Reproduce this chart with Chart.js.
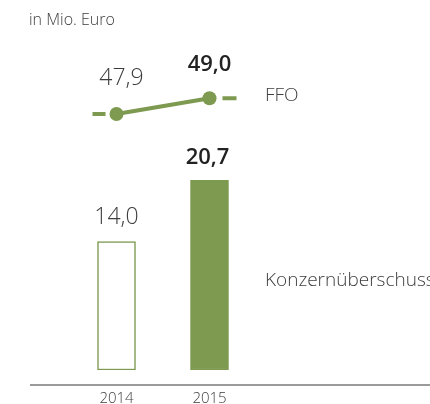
<!DOCTYPE html>
<html lang="de">
    <head>
        <meta charset="UTF-8">
        <title>FFO und Konzernüberschuss</title>
        <script src="https://cdn.jsdelivr.net/npm/chart.js"></script>
        <style>
            body { margin: 0; background: #fff; }
            #kennzahlen { display: block; }
        </style>
    </head>
    <body>
        <canvas id="kennzahlen" width="430" height="404"></canvas>
        <script>
            // Werte in Mio. Euro
            const jahre = ['2014', '2015'];
            const ffo = [47.9, 49.0];
            const konzernueberschuss = [14.0, 20.7];
            const ffoLabels = ['47,9', '49,0'];
            const ueberschussLabels = ['14,0', '20,7'];

            const gruen = '#7d9a50';
            const textFarbe = '#3d3d3d';
            const schrift = "'Open Sans', 'Noto Sans', sans-serif";

            // Beschriftungen, Achsenlinie und kurze Striche an der FFO-Linie
            const beschriftung = {
                id: 'beschriftung',
                afterDatasetsDraw(chart) {
                    const ctx = chart.ctx;
                    const linie = chart.getDatasetMeta(1).data;
                    const balken = chart.getDatasetMeta(0).data;
                    ctx.save();

                    ctx.strokeStyle = gruen;
                    ctx.lineWidth = 4;
                    ctx.beginPath();
                    ctx.moveTo(linie[0].x - 24, linie[0].y);
                    ctx.lineTo(linie[0].x - 11, linie[0].y);
                    ctx.moveTo(linie[1].x + 13, linie[1].y);
                    ctx.lineTo(linie[1].x + 27, linie[1].y);
                    ctx.stroke();

                    ctx.strokeStyle = '#7a7a7a';
                    ctx.lineWidth = 1.5;
                    ctx.beginPath();
                    ctx.moveTo(30, chart.chartArea.bottom + 15);
                    ctx.lineTo(430, chart.chartArea.bottom + 15);
                    ctx.stroke();

                    ctx.textAlign = 'center';
                    ctx.textBaseline = 'middle';
                    ctx.fillStyle = textFarbe;
                    ctx.font = '300 23px ' + schrift;
                    ctx.fillText(ffoLabels[0], linie[0].x + 5, linie[0].y - 36);
                    ctx.fillText(ueberschussLabels[0], balken[0].x, balken[0].y - 24);
                    ctx.fillStyle = '#222';
                    ctx.font = '600 22px ' + schrift;
                    ctx.fillText(ffoLabels[1], linie[1].x, linie[1].y - 34);
                    ctx.fillText(ueberschussLabels[1], balken[1].x - 2, balken[1].y - 23);

                    ctx.textAlign = 'left';
                    ctx.fillStyle = textFarbe;
                    ctx.font = '300 19px ' + schrift;
                    ctx.fillText('FFO', 265, linie[1].y - 3);
                    ctx.fillText('Konzernüberschuss', 265, 281);

                    ctx.font = '300 16px ' + schrift;
                    ctx.fillText('in Mio. Euro', 29, 20);
                    ctx.restore();
                }
            };

            new Chart(document.getElementById('kennzahlen'), {
                type: 'bar',
                data: {
                    labels: jahre,
                    datasets: [{
                        label: 'Konzernüberschuss',
                        data: konzernueberschuss,
                        backgroundColor: ['#ffffff', gruen],
                        borderColor: gruen,
                        borderWidth: 1.5,
                        borderSkipped: false,
                        barThickness: 38,
                        yAxisID: 'y',
                        order: 2
                    }, {
                        type: 'line',
                        label: 'FFO',
                        data: ffo,
                        borderColor: gruen,
                        borderWidth: 4,
                        pointRadius: 7,
                        pointBackgroundColor: gruen,
                        pointBorderWidth: 0,
                        yAxisID: 'y2',
                        order: 1
                    }]
                },
                options: {
                    responsive: false,
                    animation: false,
                    layout: { padding: { top: 40, left: 70, right: 174, bottom: -23 } },
                    plugins: {
                        legend: { display: false },
                        tooltip: { enabled: false }
                    },
                    scales: {
                        x: {
                            grid: { display: false, drawTicks: false },
                            border: { display: false },
                            ticks: {
                                padding: 21,
                                color: textFarbe,
                                font: { family: schrift, size: 15, weight: 300, lineHeight: 1 }
                            }
                        },
                        y: { display: false, min: 0, max: 36 },
                        y2: { display: false, min: 29.9, max: 53.1 }
                    }
                },
                plugins: [beschriftung]
            });
        </script>
    </body>
</html>
